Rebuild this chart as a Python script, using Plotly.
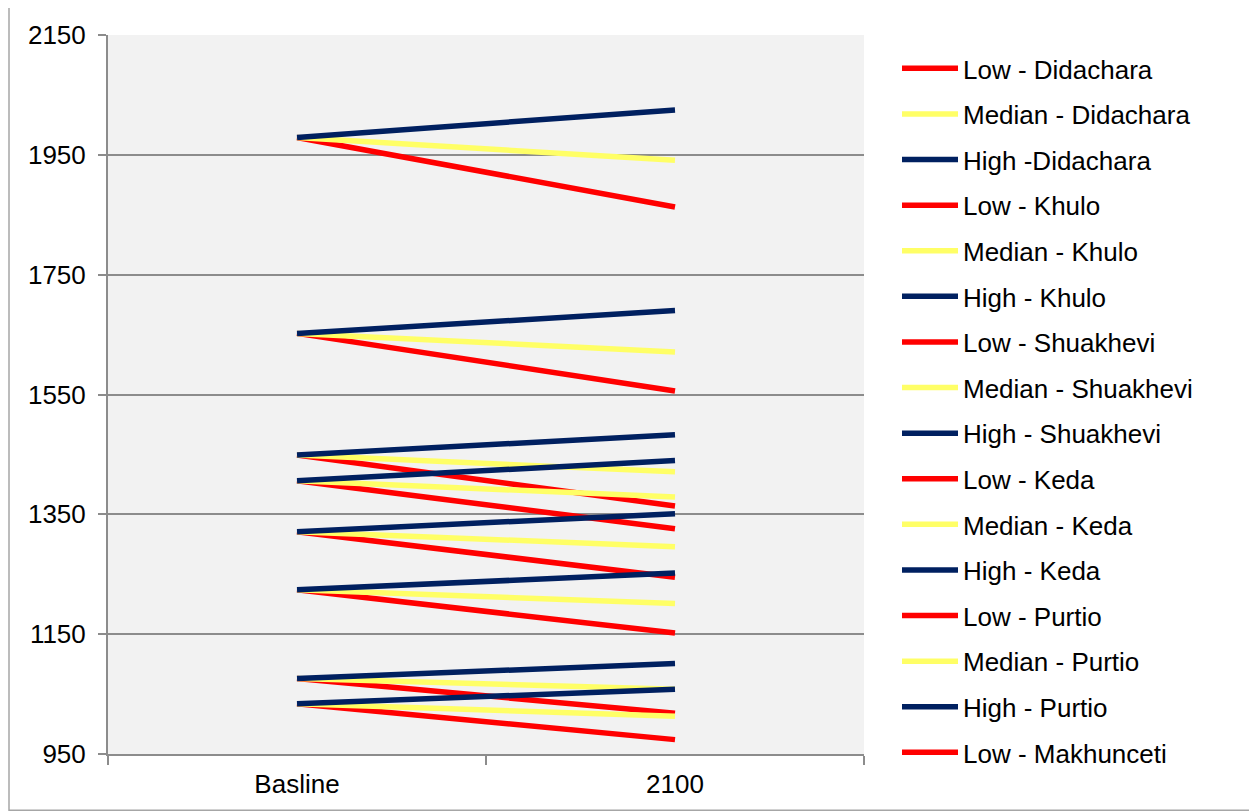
import plotly.graph_objects as go

# ---------------- data ----------------
categories = ["Basline", "2100"]

site_names = ["Didachara", "Khulo", "Shuakhevi", "Keda", "Purtio", "Makhunceti", "Site 7", "Site 8"]

baseline = [1979, 1652, 1449, 1406, 1321, 1224, 1076, 1034]
low_2100 = [1863, 1556, 1364, 1326, 1245, 1152, 1018, 974]
median_2100 = [1941, 1621, 1421, 1379, 1296, 1201, 1058, 1013]
high_2100 = [2025, 1690, 1483, 1440, 1351, 1252, 1101, 1058]

legend_labels = [
    "Low - Didachara", "Median - Didachara", "High -Didachara",
    "Low - Khulo", "Median - Khulo", "High - Khulo",
    "Low - Shuakhevi", "Median - Shuakhevi", "High - Shuakhevi",
    "Low - Keda", "Median - Keda", "High - Keda",
    "Low - Purtio", "Median - Purtio", "High - Purtio",
    "Low - Makhunceti",
]

y_ticks = [950, 1150, 1350, 1550, 1750, 1950, 2150]

# ---------------- styles ----------------
scenario_colors = {"Low": "#FF0000", "Median": "#FFFF66", "High": "#002060"}
FONT = "Liberation Sans, Arial, sans-serif"

fig = go.Figure()
idx = 0
for i, site in enumerate(site_names):
    for scen, end in (("Low", low_2100), ("Median", median_2100), ("High", high_2100)):
        if idx < len(legend_labels):
            name, show = legend_labels[idx], True
        else:
            name, show = f"{scen} - {site}", False
        fig.add_trace(go.Scatter(
            x=categories, y=[baseline[i], end[i]],
            mode="lines", name=name, showlegend=show,
            legendgroup=f"g{idx}",
            line=dict(color=scenario_colors[scen], width=5.5),
        ))
        idx += 1

# page has an 8px body margin; plot area wanted at page x 108..864, y 33..754
PL, PR, PT, PB = 108, 864, 33, 754
PW, PH = PR - PL, PB - PT

# outer chart border
fig.add_shape(type="rect", xref="paper", yref="paper",
              x0=(9 - PL) / PW, x1=(1255.5 - PL) / PW,
              y0=-(810.5 - PB) / PH, y1=1 + (PT - 4) / PH,
              line=dict(color="#a6a6a6", width=1.5), layer="below")

fig.update_layout(
    width=1249, height=804,
    margin=dict(l=PL - 8, r=1249 + 8 - PR, t=PT - 8, b=804 + 8 - PB),
    paper_bgcolor="white", plot_bgcolor="#F2F2F2",
    font=dict(family=FONT, size=26, color="black"),
    showlegend=True,
    legend=dict(
        x=(897 - PL) / PW, xanchor="left",
        y=1 - (43 - PT) / PH, yanchor="top",
        font=dict(family=FONT, size=26, color="black"),
        tracegroupgap=8.8, itemwidth=56,
        maxheight=1000,
        bgcolor="rgba(0,0,0,0)",
    ),
    xaxis=dict(
        type="category", range=[-0.5, 1.5],
        showgrid=False, showline=True, linecolor="#8c8c8c", linewidth=2,
        ticks="outside", tickson="boundaries", ticklen=9, tickcolor="#8c8c8c", tickwidth=1.5,
        tickfont=dict(family=FONT, size=26), zeroline=False,
        ticklabelstandoff=6,
    ),
    yaxis=dict(
        range=[950, 2150], tickvals=y_ticks,
        showgrid=True, gridcolor="#8c8c8c", gridwidth=1.5,
        showline=True, linecolor="#8c8c8c", linewidth=2,
        ticks="outside", ticklen=8, tickcolor="#8c8c8c", tickwidth=1.5,
        tickfont=dict(family=FONT, size=26), zeroline=False,
        ticklabelstandoff=7,
    ),
)

fig.write_html("out.html")
